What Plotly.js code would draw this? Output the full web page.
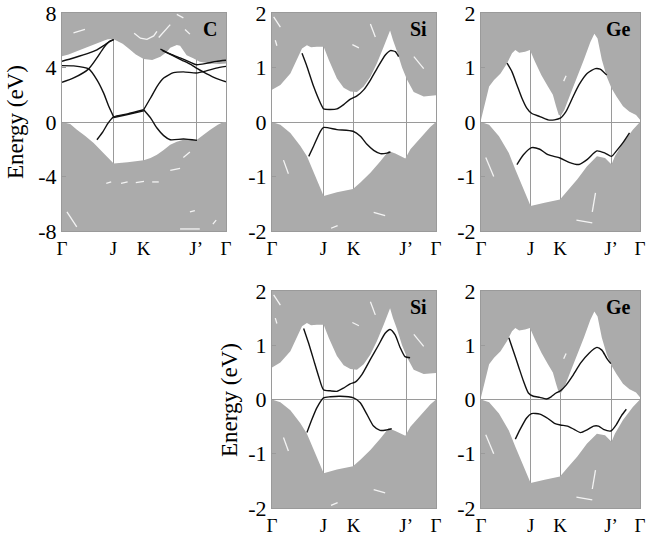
<!DOCTYPE html>
<html>
<head>
<meta charset="utf-8">
<script src="https://cdn.plot.ly/plotly-3.0.1.min.js"></script>
<style>html,body{margin:0;padding:0;background:#fff;}#plot{width:647px;height:537px;}</style>
</head>
<body>
<div id="plot"></div>
<script>
// ---- k-path ticks ----
const kTicks = [0, 0.313, 0.497, 0.818, 1];
const kLabels = ['Γ', 'J', 'K', 'J’', 'Γ'];
const cTicks = [-8, -4, 0, 4, 8];
const sTicks = [-2, -1, 0, 1, 2];

// ---- C : projected bulk bands ----
const cCondK = [0, 0.04, 0.09, 0.14, 0.19, 0.25, 0.28, 0.31, 0.33, 0.37, 0.41, 0.45, 0.498, 0.55, 0.6, 0.64, 0.66, 0.7, 0.72, 0.74, 0.76, 0.8, 0.84, 0.9, 0.96, 1.0];
const cCondE = [4.82, 4.95, 5.2, 5.45, 5.68, 5.95, 6.08, 6.1, 5.98, 5.75, 5.35, 4.95, 4.62, 4.55, 4.79, 5.16, 5.45, 5.65, 5.6, 5.2, 4.9, 4.67, 4.43, 4.3, 4.25, 4.3];
const cValK = [0, 0.05, 0.091, 0.14, 0.193, 0.254, 0.3, 0.315, 0.4, 0.498, 0.54, 0.579, 0.62, 0.66, 0.7, 0.741, 0.823, 0.86, 0.904, 0.95, 0.985, 1.0];
const cValE = [0, -0.15, -0.57, -1.0, -1.54, -2.28, -2.85, -3.05, -2.95, -2.8, -2.65, -2.4, -2.05, -1.67, -1.45, -1.3, -1.3, -0.95, -0.57, -0.2, 0, 0];
// white gaps inside C bulk continuum (segments separated by null)
const cGapK = [0.44, 0.478, 0.518, 0.559, 0.579, null, 0.59, 0.66, null, 0.07, 0.14, null, 0.70, 0.74, null, 0.75, 0.78, null,
               0.66, 0.72, null, 0.74, 0.78, null, 0.27, 0.3, null, 0.36, 0.4, null, 0.45, 0.5, null, 0.55, 0.59, null,
               0.03, 0.09, null, 0.78, 0.81, null, 0.92, 0.94, null, 0.72, 0.84];
const cGapE = [6.52, 6.15, 6.07, 6.32, 6.66, null, 6.2, 7.15, null, 6.54, 6.79, null, 7.9, 7.64, null, 6.79, 6.45, null,
               -3.55, -3.4, null, -2.6, -2.2, null, -4.5, -4.4, null, -4.5, -4.4, null, -4.45, -4.35, null, -4.4, -4.4, null,
               -6.6, -7.7, null, -6.6, -6.5, null, -7.5, -7.2, null, -7.85, -7.85];
// ---- C : surface states ----
const cS1K = [0, 0.07, 0.163, 0.213, 0.254, 0.29, 0.315];
const cS1E = [4.46, 4.7, 5.05, 5.3, 5.6, 5.9, 6.05];
const cS2K = [0, 0.071, 0.163, 0.213, 0.254, 0.285, 0.315];
const cS2E = [4.14, 4.12, 3.9, 3.1, 2.12, 1.15, 0.37];
const cS3K = [0, 0.071, 0.163, 0.213, 0.254, 0.29, 0.315];
const cS3E = [2.91, 3.23, 3.9, 4.7, 5.44, 5.93, 6.05];
const cS4K = [0.213, 0.25, 0.28, 0.315, 0.4, 0.498];
const cS4E = [-1.3, -0.7, -0.1, 0.37, 0.6, 0.9];
const cS5K = [0.315, 0.4, 0.498];
const cS5E = [0.33, 0.55, 0.82];
const cS6K = [0.498, 0.54, 0.58, 0.62, 0.68, 0.74, 0.82, 0.88, 0.94, 1.0];
const cS6E = [0.9, 1.76, 2.62, 3.23, 3.62, 3.68, 3.6, 3.75, 3.95, 4.08];
const cS7K = [0.498, 0.54, 0.579, 0.62, 0.66, 0.741, 0.823];
const cS7E = [0.9, 0.3, -0.44, -1.0, -1.3, -1.25, -1.35];
const cS8K = [0.6, 0.66, 0.72, 0.78, 0.82, 0.88, 0.94, 1.0];
const cS8E = [5.35, 5.0, 4.7, 4.4, 4.2, 4.3, 4.45, 4.53];
const cS9K = [0.61, 0.67, 0.73, 0.79, 0.82, 0.88, 0.94, 1.0];
const cS9E = [5.25, 4.9, 4.55, 4.2, 3.95, 3.55, 3.2, 2.95];

// ---- Si : projected bulk bands ----
const siCondK = [0, 0.051, 0.112, 0.152, 0.183, 0.213, 0.238, 0.274, 0.315, 0.346, 0.396, 0.437, 0.478, 0.518, 0.559, 0.6, 0.64, 0.681, 0.705, 0.72, 0.738, 0.762, 0.793, 0.823, 0.864, 0.925, 1.0];
const siCondE = [0.59, 0.68, 0.89, 1.14, 1.35, 1.41, 1.37, 1.38, 1.38, 1.14, 0.8, 0.63, 0.56, 0.55, 0.65, 0.83, 1.08, 1.38, 1.58, 1.68, 1.5, 1.3, 1.0, 0.78, 0.55, 0.47, 0.49];
const siValK = [0, 0.051, 0.112, 0.173, 0.213, 0.254, 0.295, 0.315, 0.396, 0.494, 0.539, 0.6, 0.661, 0.711, 0.752, 0.813, 0.844, 0.905, 0.965, 1.0];
const siValE = [0, -0.05, -0.2, -0.44, -0.63, -0.93, -1.2, -1.36, -1.29, -1.23, -1.11, -0.93, -0.72, -0.53, -0.58, -0.67, -0.5, -0.29, -0.09, 0];
const siGapK = [0.01, 0.051, null, 0.02, 0.03, null, 0.6, 0.63, null, 0.49, 0.53, null, 0.865, 0.925, null, 0.07, 0.1, null, 0.62, 0.69, null, 0.36, 0.4];
const siGapE = [1.93, 1.74, null, 1.5, 1.4, null, 1.8, 1.56, null, 1.42, 1.36, null, 1.2, 0.98, null, -0.7, -0.95, null, -1.66, -1.72, null, -1.95, -1.9];
// Si surface states, upper figure
const siAupK = [0.183, 0.213, 0.254, 0.295, 0.315, 0.356, 0.396, 0.437, 0.478, 0.518, 0.559, 0.6, 0.64, 0.691, 0.722, 0.752, 0.772];
const siAupE = [1.26, 1.02, 0.65, 0.35, 0.24, 0.23, 0.24, 0.32, 0.42, 0.48, 0.59, 0.77, 0.98, 1.23, 1.31, 1.29, 1.2];
const siAloK = [0.224, 0.254, 0.295, 0.315, 0.396, 0.494, 0.539, 0.579, 0.62, 0.661, 0.701, 0.722];
const siAloE = [-0.63, -0.44, -0.17, -0.1, -0.14, -0.17, -0.26, -0.41, -0.52, -0.58, -0.57, -0.55];
// Si surface states, lower figure
const siBupK = [0.193, 0.223, 0.254, 0.284, 0.314, 0.355, 0.396, 0.436, 0.477, 0.507, 0.548, 0.598, 0.649, 0.69, 0.72, 0.751, 0.781, 0.811, 0.842];
const siBupE = [1.31, 1.04, 0.73, 0.43, 0.18, 0.16, 0.15, 0.21, 0.29, 0.32, 0.46, 0.73, 1.0, 1.22, 1.29, 1.19, 0.96, 0.79, 0.77];
const siBloK = [0.213, 0.243, 0.274, 0.314, 0.355, 0.416, 0.497, 0.538, 0.578, 0.619, 0.659, 0.7, 0.73];
const siBloE = [-0.61, -0.37, -0.15, 0.03, 0.05, 0.06, 0.03, -0.06, -0.27, -0.49, -0.57, -0.56, -0.54];

// ---- Ge : projected bulk bands ----
const geCondK = [0, 0.021, 0.051, 0.082, 0.123, 0.164, 0.195, 0.216, 0.24, 0.277, 0.308, 0.339, 0.38, 0.421, 0.452, 0.472, 0.489, 0.503, 0.524, 0.565, 0.606, 0.647, 0.688, 0.713, 0.733, 0.76, 0.791, 0.821, 0.852, 0.893, 0.934, 0.975, 1.0];
const geCondE = [0.04, 0.29, 0.65, 0.77, 0.89, 1.08, 1.26, 1.32, 1.27, 1.29, 1.32, 1.11, 0.86, 0.65, 0.5, 0.29, 0.13, 0.12, 0.22, 0.53, 0.83, 1.14, 1.47, 1.62, 1.53, 1.14, 0.83, 0.62, 0.47, 0.29, 0.19, 0.13, 0.04];
const geValK = [0, 0.051, 0.113, 0.175, 0.216, 0.257, 0.298, 0.312, 0.4, 0.497, 0.544, 0.606, 0.667, 0.729, 0.78, 0.821, 0.842, 0.893, 0.955, 1.0];
const geValE = [0, -0.05, -0.26, -0.57, -0.87, -1.17, -1.45, -1.54, -1.48, -1.42, -1.26, -1.05, -0.81, -0.63, -0.66, -0.78, -0.63, -0.38, -0.14, 0];
const geGapK = [0.52, 0.535, null, 0.03, 0.08, null, 0.6, 0.7, null, 0.72, 0.7];
const geGapE = [0.75, 0.85, null, -0.65, -1.0, null, -1.8, -1.85, null, -1.3, -1.65];
// Ge surface states, upper figure
const geAupK = [0.164, 0.195, 0.226, 0.257, 0.287, 0.318, 0.37, 0.421, 0.462, 0.499, 0.534, 0.575, 0.616, 0.667, 0.719, 0.749, 0.791];
const geAupE = [1.08, 0.92, 0.68, 0.44, 0.26, 0.16, 0.1, 0.04, 0.04, 0.07, 0.19, 0.44, 0.68, 0.89, 0.98, 0.97, 0.86];
const geAloK = [0.226, 0.267, 0.318, 0.37, 0.421, 0.497, 0.554, 0.616, 0.667, 0.729, 0.78, 0.821, 0.852, 0.893, 0.934];
const geAloE = [-0.78, -0.6, -0.47, -0.5, -0.6, -0.66, -0.74, -0.78, -0.69, -0.53, -0.57, -0.63, -0.53, -0.38, -0.2];
// Ge surface states, lower figure
const geBupK = [0.175, 0.205, 0.236, 0.267, 0.298, 0.329, 0.37, 0.411, 0.441, 0.472, 0.499, 0.534, 0.575, 0.626, 0.678, 0.729, 0.76, 0.791, 0.817];
const geBupE = [1.14, 0.88, 0.61, 0.34, 0.12, 0.06, 0.04, 0.01, 0.05, 0.12, 0.16, 0.26, 0.43, 0.67, 0.85, 0.96, 0.91, 0.76, 0.66];
const geBloK = [0.216, 0.246, 0.287, 0.318, 0.37, 0.421, 0.462, 0.499, 0.544, 0.585, 0.626, 0.667, 0.708, 0.739, 0.77, 0.817, 0.852, 0.883, 0.914];
const geBloE = [-0.73, -0.55, -0.34, -0.26, -0.27, -0.35, -0.44, -0.47, -0.49, -0.55, -0.61, -0.56, -0.49, -0.49, -0.55, -0.58, -0.46, -0.3, -0.18];

// ---- styles ----
const GRAY = '#ababab';
const FRAME = '#9a9a9a';
const serif = 'Liberation Serif, Times New Roman, serif';

function regionTrace(k, e, edge, ax) {
  const x = k.concat([1, 0]);
  const y = e.concat([edge, edge]);
  return {x: x, y: y, xaxis: 'x' + ax, yaxis: 'y' + ax, type: 'scatter', mode: 'lines',
          fill: 'toself', fillcolor: GRAY, line: {width: 0, color: GRAY}, hoverinfo: 'skip', showlegend: false};
}
function gapTrace(k, e, ax) {
  return {x: k, y: e, xaxis: 'x' + ax, yaxis: 'y' + ax, type: 'scatter', mode: 'lines',
          line: {color: '#f4f4f4', width: 1.3}, connectgaps: false, hoverinfo: 'skip', showlegend: false};
}
function stateTrace(k, e, ax) {
  return {x: k, y: e, xaxis: 'x' + ax, yaxis: 'y' + ax, type: 'scatter', mode: 'lines',
          line: {color: '#111111', width: 1.4, shape: 'spline', smoothing: 0.6}, hoverinfo: 'skip', showlegend: false};
}

const traces = [];
// panel 1: C
traces.push(regionTrace(cCondK, cCondE, 8, ''));
traces.push(regionTrace(cValK, cValE, -8, ''));
traces.push(gapTrace(cGapK, cGapE, ''));
[[cS1K, cS1E], [cS2K, cS2E], [cS3K, cS3E], [cS4K, cS4E], [cS5K, cS5E], [cS6K, cS6E], [cS7K, cS7E], [cS8K, cS8E], [cS9K, cS9E]]
  .forEach(p => traces.push(stateTrace(p[0], p[1], '')));
// panel 2: Si (upper)
traces.push(regionTrace(siCondK, siCondE, 2, '2'));
traces.push(regionTrace(siValK, siValE, -2, '2'));
traces.push(gapTrace(siGapK, siGapE, '2'));
traces.push(stateTrace(siAupK, siAupE, '2'));
traces.push(stateTrace(siAloK, siAloE, '2'));
// panel 3: Ge (upper)
traces.push(regionTrace(geCondK, geCondE, 2, '3'));
traces.push(regionTrace(geValK, geValE, -2, '3'));
traces.push(gapTrace(geGapK, geGapE, '3'));
traces.push(stateTrace(geAupK, geAupE, '3'));
traces.push(stateTrace(geAloK, geAloE, '3'));
// panel 4: Si (lower)
traces.push(regionTrace(siCondK, siCondE, 2, '4'));
traces.push(regionTrace(siValK, siValE, -2, '4'));
traces.push(gapTrace(siGapK, siGapE, '4'));
traces.push(stateTrace(siBupK, siBupE, '4'));
traces.push(stateTrace(siBloK, siBloE, '4'));
// panel 5: Ge (lower)
traces.push(regionTrace(geCondK, geCondE, 2, '5'));
traces.push(regionTrace(geValK, geValE, -2, '5'));
traces.push(gapTrace(geGapK, geGapE, '5'));
traces.push(stateTrace(geBupK, geBupE, '5'));
traces.push(stateTrace(geBloK, geBloE, '5'));

const W = 647, H = 537;
function xAx(x0, x1, anchor) {
  return {domain: [x0 / W, x1 / W], anchor: anchor, range: [0, 1], tickmode: 'array', tickvals: kTicks, ticktext: kLabels,
          showgrid: true, gridcolor: FRAME, gridwidth: 1, zeroline: false, showline: true, mirror: true, linecolor: FRAME,
          linewidth: 1, ticks: '', ticklabeloverflow: 'allow', tickfont: {family: serif, size: 19, color: '#000'}, fixedrange: true};
}
function yAx(y0, y1, anchor, range, vals) {
  return {domain: [(H - y1) / H, (H - y0) / H], anchor: anchor, range: range, tickmode: 'array', tickvals: vals,
          ticktext: vals.map(v => String(v)), showgrid: false, zeroline: true, zerolinecolor: FRAME, zerolinewidth: 1,
          showline: true, mirror: true, linecolor: FRAME, linewidth: 1, ticks: 'inside', ticklen: 4, tickcolor: FRAME,
          tickfont: {family: serif, size: 22, color: '#000'}, fixedrange: true};
}

function panelLabel(txt, ax) {
  return {text: '<b>' + txt + '</b>', xref: 'x' + ax + ' domain', yref: 'y' + ax + ' domain', x: 0.955, y: 0.925,
          xanchor: 'right', yanchor: 'middle', showarrow: false, font: {family: serif, size: 20, color: '#000'}};
}

const layout = {
  width: W, height: H, margin: {l: 0, r: 0, t: 0, b: 0}, paper_bgcolor: '#fff', plot_bgcolor: '#fff', showlegend: false,
  xaxis: xAx(62, 226, 'y'),
  yaxis: yAx(13, 231, 'x', [-8, 8], cTicks),
  xaxis2: xAx(272, 436, 'y2'),
  yaxis2: yAx(13, 231, 'x2', [-2, 2], sTicks),
  xaxis3: xAx(481, 640, 'y3'),
  yaxis3: yAx(13, 231, 'x3', [-2, 2], sTicks),
  xaxis4: xAx(272, 436, 'y4'),
  yaxis4: yAx(291, 508, 'x4', [-2, 2], sTicks),
  xaxis5: xAx(481, 640, 'y5'),
  yaxis5: yAx(291, 508, 'x5', [-2, 2], sTicks),
  annotations: [
    panelLabel('C', ''), panelLabel('Si', '2'), panelLabel('Ge', '3'), panelLabel('Si', '4'), panelLabel('Ge', '5'),
    {text: 'Energy (eV)', xref: 'paper', yref: 'paper', x: 16 / W, y: (H - 122) / H, textangle: -90, showarrow: false,
     xanchor: 'center', yanchor: 'middle', font: {family: serif, size: 23, color: '#000'}},
    {text: 'Energy (eV)', xref: 'paper', yref: 'paper', x: 229 / W, y: (H - 400) / H, textangle: -90, showarrow: false,
     xanchor: 'center', yanchor: 'middle', font: {family: serif, size: 23, color: '#000'}}
  ]
};

Plotly.newPlot('plot', traces, layout, {displayModeBar: false, staticPlot: true});
</script>
</body>
</html>
